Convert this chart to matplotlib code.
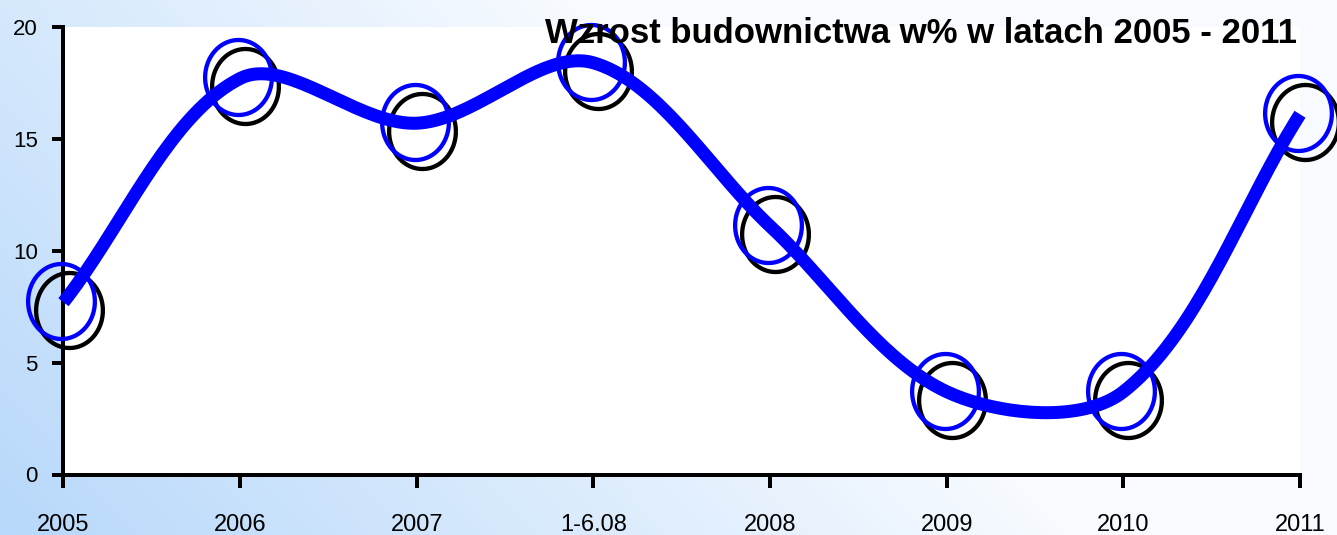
import numpy as np
import matplotlib
matplotlib.use("Agg")
import matplotlib.pyplot as plt
from matplotlib.path import Path
from matplotlib.transforms import offset_copy

# ---- data ----
categories = ["2005", "2006", "2007", "1-6.08", "2008", "2009", "2010", "2011"]
values = [7.7, 17.7, 15.7, 18.4, 11.1, 3.7, 3.7, 16.1]
yticks = [0, 5, 10, 15, 20]
title = "Wzrost budownictwa w% w latach 2005 - 2011"

W, H, DPI = 1337, 535, 100
plt.rcParams['font.family'] = ['Liberation Sans', 'DejaVu Sans']

fig = plt.figure(figsize=(W / DPI, H / DPI), dpi=DPI)

# background gradient (light blue at bottom-left fading to white at top-right)
bg = fig.add_axes([0, 0, 1, 1], zorder=0)
u = np.linspace(0, 1, 400)[None, :]
v = np.linspace(1, 0, 200)[:, None]
s = np.clip(1.0 - 1.2 * u - 0.45 * v, 0.04, 1.0)
blue = np.array([183, 216, 250]) / 255.0
white = np.array([250, 252, 255]) / 255.0
img = white[None, None, :] * (1 - s[..., None]) + blue[None, None, :] * s[..., None]
bg.imshow(img, aspect='auto', extent=[0, 1, 0, 1], interpolation='bilinear')
bg.set_axis_off()

# main axes
x0, x1 = 63.5 / W, 1300 / W
y0, y1 = (H - 474.5) / H, (H - 27) / H
ax = fig.add_axes([x0, y0, x1 - x0, y1 - y0], zorder=1)
ax.set_facecolor('white')

n = len(values)
xs = np.arange(n, dtype=float)
ys = np.array(values, dtype=float)
ax.set_xlim(0, n - 1)
ax.set_ylim(0, 20)

# spreadsheet-style smoothing: Bezier with control points scaled by
# on-screen chord lengths
P = np.column_stack([xs, ys])
D = ax.transData.transform(P)
Pe = np.vstack([P[0], P, P[-1]])
De = np.vstack([D[0], D, D[-1]])
def dist(a, b):
    return np.hypot(*(a - b))
curve = []
tt = np.linspace(0, 1, 40)
for i in range(n - 1):
    j = i + 1  # index in extended arrays of p_i
    p1, p2 = Pe[j], Pe[j + 1]
    d_prev = dist(De[j - 1], De[j])
    d_cur = dist(De[j], De[j + 1])
    d_next = dist(De[j + 1], De[j + 2])
    c1 = p1 + (Pe[j + 1] - Pe[j - 1]) * (d_cur / (d_prev + d_cur)) / 3.0
    c2 = p2 - (Pe[j + 2] - Pe[j]) * (d_cur / (d_cur + d_next)) / 3.0
    seg = ((1 - tt) ** 3)[:, None] * p1 + (3 * (1 - tt) ** 2 * tt)[:, None] * c1 \
        + (3 * (1 - tt) * tt ** 2)[:, None] * c2 + (tt ** 3)[:, None] * p2
    if i > 0:
        seg = seg[1:]
    curve.append(seg)
curve = np.vstack(curve)

# ellipse marker
th = np.linspace(0, 2 * np.pi, 100)
ell = Path(np.column_stack([0.89 * np.cos(th), np.sin(th)]))
ms = 75 * 72 / DPI
mew = 4.3 * 72 / DPI

tr_black = offset_copy(ax.transData, fig=fig, x=5 * 72 / DPI, y=-8 * 72 / DPI, units='points')
tr_blue = offset_copy(ax.transData, fig=fig, x=-2 * 72 / DPI, y=1 * 72 / DPI, units='points')
ax.plot(xs, ys, linestyle='none', marker=ell, markersize=ms, markerfacecolor='none',
        markeredgecolor='black', markeredgewidth=mew, transform=tr_black, clip_on=False, zorder=3)
ax.plot(xs, ys, linestyle='none', marker=ell, markersize=ms, markerfacecolor='none',
        markeredgecolor='#0000ff', markeredgewidth=mew, transform=tr_blue, clip_on=False, zorder=4)
ax.plot(curve[:, 0], curve[:, 1], color='#0000ff', lw=13 * 72 / DPI, solid_capstyle='butt',
        solid_joinstyle='round', clip_on=False, zorder=5)

ax.set_xticks(xs)
ax.set_xticklabels(categories, fontsize=17)
ax.set_yticks(yticks)
ax.set_yticklabels([str(t) for t in yticks], fontsize=16)
for sp in ['top', 'right']:
    ax.spines[sp].set_visible(False)
for sp in ['left', 'bottom']:
    ax.spines[sp].set_linewidth(4 * 72 / DPI)
    ax.spines[sp].set_color('black')
ax.tick_params(axis='x', direction='out', length=9.4, width=4 * 72 / DPI, pad=19, colors='black')
ax.tick_params(axis='y', direction='out', length=7.6, width=4 * 72 / DPI, pad=11, colors='black')

fig.text(1297 / W, (H - 43) / H, title, ha='right', va='baseline', fontsize=25,
         fontweight='bold', color='black', zorder=10)

fig.savefig('out.png', dpi=DPI)
